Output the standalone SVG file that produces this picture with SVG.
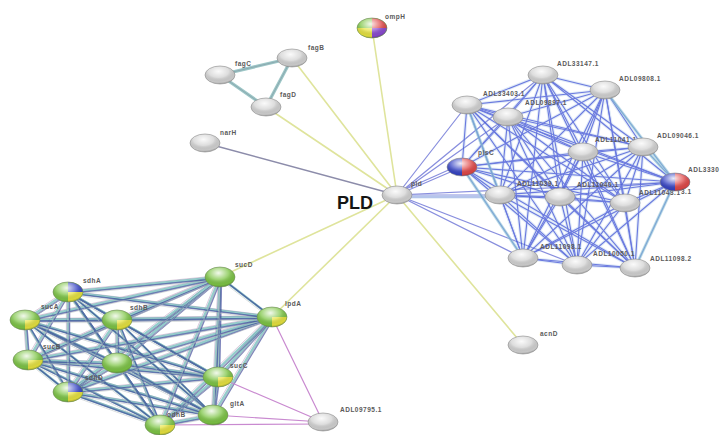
<svg xmlns="http://www.w3.org/2000/svg" xmlns:xlink="http://www.w3.org/1999/xlink" width="728" height="435" viewBox="0 0 728 435">
<style>
.lb{font-family:"Liberation Sans",Arial,sans-serif;font-size:6.5px;font-weight:bold;fill:#5a5a5a;letter-spacing:.5px}
.pld{font-family:"Liberation Sans",Arial,sans-serif;font-size:18px;font-weight:bold;fill:#151515}
.gr{fill:#d2d2d2}
.gn{fill:#7cc444}
.yl{fill:#e6e23e}
.bl{fill:#3644c4}
.rd{fill:#e04848}
.pu{fill:#8a4ad0}
</style>
<defs>
<radialGradient id="gloss" cx=".45" cy=".3" r=".75">
<stop offset="0" stop-color="#fff" stop-opacity=".9"/>
<stop offset=".45" stop-color="#fff" stop-opacity=".25"/>
<stop offset=".8" stop-color="#000" stop-opacity=".05"/>
<stop offset="1" stop-color="#000" stop-opacity=".35"/>
</radialGradient>
<ellipse id="g9" rx="15" ry="9" fill="url(#gloss)" stroke="#8a8a8a" stroke-width=".6"/>
<ellipse id="g10" rx="15" ry="10" fill="url(#gloss)" stroke="#6f8a5a" stroke-width=".6"/>
<path id="ybr" d="M0,0 L15,0 A15,10 0 0 1 0,10Z"/>
<path id="btr" d="M0,0 L0,-10 A15,10 0 0 1 15,0Z"/>
<path id="bl10" d="M0,0 L0,10 A15,10 0 0 1 -15,0Z"/>
<path id="rh9" d="M0,-9 A15,9 0 0 1 0,9Z"/>
</defs>
<rect width="728" height="435" fill="#fff"/>

<g id="connectors" fill="none" stroke-linecap="round">
<g stroke="#dfe49c" stroke-width="1.6">
<line x1="397" y1="195" x2="372" y2="28"/>
<line x1="397" y1="195" x2="292" y2="58"/>
<line x1="397" y1="195" x2="266" y2="107"/>
<line x1="397" y1="195" x2="220" y2="277"/>
<line x1="397" y1="195" x2="272" y2="317"/>
<line x1="397" y1="195" x2="523" y2="345"/>
</g>
<line x1="397" y1="195" x2="205" y2="143" stroke="#8c8caa" stroke-width="1.5"/>
<g stroke="#6a72d6" stroke-width="1.2" opacity=".8">
<line x1="397" y1="195" x2="462" y2="167"/>
<line x1="397" y1="193" x2="462" y2="164"/>
<line x1="397" y1="195" x2="467" y2="105"/>
<line x1="397" y1="195" x2="508" y2="117"/>
<line x1="397" y1="195" x2="543" y2="75"/>
<line x1="397" y1="195" x2="500" y2="195"/>
<line x1="397" y1="197" x2="560" y2="197"/>
<line x1="397" y1="195" x2="523" y2="258"/>
<line x1="397" y1="195" x2="577" y2="265"/>
<line x1="397" y1="195" x2="675" y2="182"/>
</g>
<line x1="397" y1="197" x2="500" y2="197" stroke="#a8c4e8" stroke-width="3" opacity=".5"/>
<g stroke="#9cc6c6" stroke-width="3.2">
<line x1="220" y1="75" x2="292" y2="58"/>
<line x1="292" y1="58" x2="266" y2="107"/>
<line x1="266" y1="107" x2="220" y2="75"/>
</g>
<g stroke="#7a8a9a" stroke-width=".8" opacity=".6">
<line x1="220" y1="75" x2="292" y2="58"/>
<line x1="292" y1="58" x2="266" y2="107"/>
<line x1="266" y1="107" x2="220" y2="75"/>
</g>
<use xlink:href="#rmesh" href="#rmesh" stroke="#a9c6ea" stroke-width="3.2" opacity=".35"/>
<g stroke="#3d4ed6" stroke-width="1.1" opacity=".72"><g id="rmesh">
<line x1="543" y1="75" x2="605" y2="90"/><line x1="543" y1="75" x2="467" y2="105"/><line x1="543" y1="75" x2="508" y2="117"/><line x1="543" y1="75" x2="643" y2="147"/><line x1="543" y1="75" x2="583" y2="152"/><line x1="543" y1="75" x2="462" y2="167"/><line x1="543" y1="75" x2="675" y2="182"/><line x1="543" y1="75" x2="500" y2="195"/><line x1="543" y1="75" x2="560" y2="197"/><line x1="543" y1="75" x2="625" y2="203"/><line x1="543" y1="75" x2="523" y2="258"/><line x1="543" y1="75" x2="577" y2="265"/><line x1="543" y1="75" x2="635" y2="268"/>
<line x1="605" y1="90" x2="467" y2="105"/><line x1="605" y1="90" x2="508" y2="117"/><line x1="605" y1="90" x2="643" y2="147"/><line x1="605" y1="90" x2="583" y2="152"/><line x1="605" y1="90" x2="462" y2="167"/><line x1="605" y1="90" x2="675" y2="182"/><line x1="605" y1="90" x2="500" y2="195"/><line x1="605" y1="90" x2="560" y2="197"/><line x1="605" y1="90" x2="625" y2="203"/><line x1="605" y1="90" x2="523" y2="258"/><line x1="605" y1="90" x2="577" y2="265"/><line x1="605" y1="90" x2="635" y2="268"/>
<line x1="467" y1="105" x2="508" y2="117"/><line x1="467" y1="105" x2="643" y2="147"/><line x1="467" y1="105" x2="583" y2="152"/><line x1="467" y1="105" x2="462" y2="167"/><line x1="467" y1="105" x2="675" y2="182"/><line x1="467" y1="105" x2="500" y2="195"/><line x1="467" y1="105" x2="560" y2="197"/><line x1="467" y1="105" x2="625" y2="203"/><line x1="467" y1="105" x2="523" y2="258"/><line x1="467" y1="105" x2="577" y2="265"/><line x1="467" y1="105" x2="635" y2="268"/>
<line x1="508" y1="117" x2="643" y2="147"/><line x1="508" y1="117" x2="583" y2="152"/><line x1="508" y1="117" x2="462" y2="167"/><line x1="508" y1="117" x2="675" y2="182"/><line x1="508" y1="117" x2="500" y2="195"/><line x1="508" y1="117" x2="560" y2="197"/><line x1="508" y1="117" x2="625" y2="203"/><line x1="508" y1="117" x2="523" y2="258"/><line x1="508" y1="117" x2="577" y2="265"/><line x1="508" y1="117" x2="635" y2="268"/>
<line x1="643" y1="147" x2="583" y2="152"/><line x1="643" y1="147" x2="462" y2="167"/><line x1="643" y1="147" x2="675" y2="182"/><line x1="643" y1="147" x2="500" y2="195"/><line x1="643" y1="147" x2="560" y2="197"/><line x1="643" y1="147" x2="625" y2="203"/><line x1="643" y1="147" x2="523" y2="258"/><line x1="643" y1="147" x2="577" y2="265"/><line x1="643" y1="147" x2="635" y2="268"/>
<line x1="583" y1="152" x2="462" y2="167"/><line x1="583" y1="152" x2="675" y2="182"/><line x1="583" y1="152" x2="500" y2="195"/><line x1="583" y1="152" x2="560" y2="197"/><line x1="583" y1="152" x2="625" y2="203"/><line x1="583" y1="152" x2="523" y2="258"/><line x1="583" y1="152" x2="577" y2="265"/><line x1="583" y1="152" x2="635" y2="268"/>
<line x1="462" y1="167" x2="675" y2="182"/><line x1="462" y1="167" x2="500" y2="195"/><line x1="462" y1="167" x2="560" y2="197"/><line x1="462" y1="167" x2="625" y2="203"/><line x1="462" y1="167" x2="523" y2="258"/><line x1="462" y1="167" x2="577" y2="265"/><line x1="462" y1="167" x2="635" y2="268"/>
<line x1="675" y1="182" x2="500" y2="195"/><line x1="675" y1="182" x2="560" y2="197"/><line x1="675" y1="182" x2="625" y2="203"/><line x1="675" y1="182" x2="523" y2="258"/><line x1="675" y1="182" x2="577" y2="265"/><line x1="675" y1="182" x2="635" y2="268"/>
<line x1="500" y1="195" x2="560" y2="197"/><line x1="500" y1="195" x2="625" y2="203"/><line x1="500" y1="195" x2="523" y2="258"/><line x1="500" y1="195" x2="577" y2="265"/><line x1="500" y1="195" x2="635" y2="268"/>
<line x1="560" y1="197" x2="625" y2="203"/><line x1="560" y1="197" x2="523" y2="258"/><line x1="560" y1="197" x2="577" y2="265"/><line x1="560" y1="197" x2="635" y2="268"/>
<line x1="625" y1="203" x2="523" y2="258"/><line x1="625" y1="203" x2="577" y2="265"/><line x1="625" y1="203" x2="635" y2="268"/>
<line x1="523" y1="258" x2="577" y2="265"/><line x1="523" y1="258" x2="635" y2="268"/>
<line x1="577" y1="265" x2="635" y2="268"/>
</g></g>
<g stroke="#8cc8d0" stroke-width="2.6" opacity=".55">
<line x1="605" y1="90" x2="675" y2="182"/>
<line x1="643" y1="147" x2="675" y2="182"/>
<line x1="467" y1="105" x2="500" y2="195"/>
<line x1="462" y1="167" x2="523" y2="258"/>
<line x1="675" y1="182" x2="635" y2="268"/>
</g>
<use xlink:href="#blmesh" href="#blmesh" stroke="#9a6aa0" stroke-width=".9" opacity=".4" transform="translate(-1.6,-1.3)"/>
<g stroke="#4fabaa" stroke-width="2.4" opacity=".6"><g id="blmesh">
<line x1="68" y1="292" x2="220" y2="277"/><line x1="68" y1="292" x2="25" y2="320"/><line x1="68" y1="292" x2="117" y2="320"/><line x1="68" y1="292" x2="272" y2="317"/><line x1="68" y1="292" x2="28" y2="360"/><line x1="68" y1="292" x2="117" y2="363"/><line x1="68" y1="292" x2="68" y2="392"/><line x1="68" y1="292" x2="218" y2="377"/><line x1="68" y1="292" x2="213" y2="415"/><line x1="68" y1="292" x2="160" y2="425"/>
<line x1="220" y1="277" x2="25" y2="320"/><line x1="220" y1="277" x2="117" y2="320"/><line x1="220" y1="277" x2="272" y2="317"/><line x1="220" y1="277" x2="28" y2="360"/><line x1="220" y1="277" x2="117" y2="363"/><line x1="220" y1="277" x2="68" y2="392"/><line x1="220" y1="277" x2="218" y2="377"/><line x1="220" y1="277" x2="213" y2="415"/><line x1="220" y1="277" x2="160" y2="425"/>
<line x1="25" y1="320" x2="117" y2="320"/><line x1="25" y1="320" x2="272" y2="317"/><line x1="25" y1="320" x2="28" y2="360"/><line x1="25" y1="320" x2="117" y2="363"/><line x1="25" y1="320" x2="68" y2="392"/><line x1="25" y1="320" x2="218" y2="377"/><line x1="25" y1="320" x2="213" y2="415"/><line x1="25" y1="320" x2="160" y2="425"/>
<line x1="117" y1="320" x2="272" y2="317"/><line x1="117" y1="320" x2="28" y2="360"/><line x1="117" y1="320" x2="117" y2="363"/><line x1="117" y1="320" x2="68" y2="392"/><line x1="117" y1="320" x2="218" y2="377"/><line x1="117" y1="320" x2="213" y2="415"/><line x1="117" y1="320" x2="160" y2="425"/>
<line x1="272" y1="317" x2="28" y2="360"/><line x1="272" y1="317" x2="117" y2="363"/><line x1="272" y1="317" x2="68" y2="392"/><line x1="272" y1="317" x2="218" y2="377"/><line x1="272" y1="317" x2="213" y2="415"/><line x1="272" y1="317" x2="160" y2="425"/>
<line x1="28" y1="360" x2="117" y2="363"/><line x1="28" y1="360" x2="68" y2="392"/><line x1="28" y1="360" x2="218" y2="377"/><line x1="28" y1="360" x2="213" y2="415"/><line x1="28" y1="360" x2="160" y2="425"/>
<line x1="117" y1="363" x2="68" y2="392"/><line x1="117" y1="363" x2="218" y2="377"/><line x1="117" y1="363" x2="213" y2="415"/><line x1="117" y1="363" x2="160" y2="425"/>
<line x1="68" y1="392" x2="218" y2="377"/><line x1="68" y1="392" x2="213" y2="415"/><line x1="68" y1="392" x2="160" y2="425"/>
<line x1="218" y1="377" x2="213" y2="415"/><line x1="218" y1="377" x2="160" y2="425"/>
<line x1="213" y1="415" x2="160" y2="425"/>
</g></g>
<use xlink:href="#blmesh" href="#blmesh" stroke="#27338e" stroke-width="1.5" opacity=".6" transform="translate(1.5,1.3)"/>
<use xlink:href="#blmesh" href="#blmesh" stroke="#b8c0c0" stroke-width="1" opacity=".5" transform="translate(0,2.6)"/>
<g stroke="#c98ad0" stroke-width="1.2">
<line x1="272" y1="317" x2="323" y2="422"/>
<line x1="218" y1="377" x2="323" y2="422"/>
<line x1="213" y1="415" x2="323" y2="422"/>
<line x1="160" y1="425" x2="323" y2="424"/>
</g>
</g>

<g id="nodes">
<g id="n-ompH" transform="translate(372,28)">
<ellipse rx="15" ry="10" class="gn"/><use href="#btr" xlink:href="#btr" class="rd"/><use href="#ybr" xlink:href="#ybr" class="pu"/><use href="#bl10" xlink:href="#bl10" class="yl"/><use href="#g10" xlink:href="#g10"/>
<text class="lb" x="13" y="-9">ompH</text></g>
<g id="n-fagC" transform="translate(220,75)"><ellipse rx="15" ry="9" class="gr"/><use href="#g9" xlink:href="#g9"/><text class="lb" x="15" y="-9">fagC</text></g>
<g id="n-fagB" transform="translate(292,58)"><ellipse rx="15" ry="9" class="gr"/><use href="#g9" xlink:href="#g9"/><text class="lb" x="16" y="-8">fagB</text></g>
<g id="n-fagD" transform="translate(266,107)"><ellipse rx="15" ry="9" class="gr"/><use href="#g9" xlink:href="#g9"/><text class="lb" x="14" y="-10">fagD</text></g>
<g id="n-narH" transform="translate(205,143)"><ellipse rx="15" ry="9" class="gr"/><use href="#g9" xlink:href="#g9"/><text class="lb" x="15" y="-8">narH</text></g>
<g id="n-PLD" transform="translate(397,195)"><ellipse rx="15" ry="9" class="gr"/><use href="#g9" xlink:href="#g9"/><text class="lb" x="14" y="-9">pld</text>
<text class="pld" x="-60" y="14">PLD</text></g>

<g id="n-ADL11041" transform="translate(583,152)"><ellipse rx="15" ry="9" class="gr"/><use href="#g9" xlink:href="#g9"/><text class="lb" x="12" y="-10">ADL11041.1</text></g>
<g id="n-ADL33147" transform="translate(543,75)"><ellipse rx="15" ry="9" class="gr"/><use href="#g9" xlink:href="#g9"/><text class="lb" x="14" y="-9">ADL33147.1</text></g>
<g id="n-ADL09808" transform="translate(605,90)"><ellipse rx="15" ry="9" class="gr"/><use href="#g9" xlink:href="#g9"/><text class="lb" x="14" y="-9">ADL09808.1</text></g>
<g id="n-ADL33403" transform="translate(467,105)"><ellipse rx="15" ry="9" class="gr"/><use href="#g9" xlink:href="#g9"/><text class="lb" x="16" y="-9">ADL33403.1</text></g>
<g id="n-ADL09897" transform="translate(508,117)"><ellipse rx="15" ry="9" class="gr"/><use href="#g9" xlink:href="#g9"/><text class="lb" x="17" y="-12">ADL09897.1</text></g>
<g id="n-ADL09046" transform="translate(643,147)"><ellipse rx="15" ry="9" class="gr"/><use href="#g9" xlink:href="#g9"/><text class="lb" x="14" y="-9">ADL09046.1</text></g>
<g id="n-plsC" transform="translate(462,167)"><ellipse rx="15" ry="9" class="bl"/><use href="#rh9" xlink:href="#rh9" class="rd"/><use href="#g9" xlink:href="#g9"/><text class="lb" x="16" y="-12">plsC</text></g>
<g id="n-ADL11039" transform="translate(500,195)"><ellipse rx="15" ry="9" class="gr"/><use href="#g9" xlink:href="#g9"/><text class="lb" x="17" y="-9">ADL11039.1</text></g>
<g id="n-ADL11040" transform="translate(560,197)"><ellipse rx="15" ry="9" class="gr"/><use href="#g9" xlink:href="#g9"/><text class="lb" x="17" y="-10">ADL11040.1</text></g>
<g id="n-ADL11043" transform="translate(625,203)"><ellipse rx="15" ry="9" class="gr"/><use href="#g9" xlink:href="#g9"/><text class="lb" x="14" y="-8">ADL11043.1</text></g>
<g id="n-ADL33303" transform="translate(675,182)"><ellipse rx="15" ry="9" class="bl"/><use href="#rh9" xlink:href="#rh9" class="rd"/><use href="#g9" xlink:href="#g9"/><text class="lb" x="13" y="-10">ADL3330<tspan x="6" dy="22">3.1</tspan></text></g>
<g id="n-ADL11098" transform="translate(523,258)"><ellipse rx="15" ry="9" class="gr"/><use href="#g9" xlink:href="#g9"/><text class="lb" x="17" y="-9">ADL11098.1</text></g>
<g id="n-ADL10050" transform="translate(577,265)"><ellipse rx="15" ry="9" class="gr"/><use href="#g9" xlink:href="#g9"/><text class="lb" x="16" y="-9">ADL10050.1</text></g>
<g id="n-ADL11098b" transform="translate(635,268)"><ellipse rx="15" ry="9" class="gr"/><use href="#g9" xlink:href="#g9"/><text class="lb" x="15" y="-7">ADL11098.2</text></g>

<g id="n-sdhA" transform="translate(68,292)"><ellipse rx="15" ry="10" class="gn"/><use href="#btr" xlink:href="#btr" class="bl"/><use href="#ybr" xlink:href="#ybr" class="yl"/><use href="#g10" xlink:href="#g10"/><text class="lb" x="15" y="-9">sdhA</text></g>
<g id="n-sucD" transform="translate(220,277)"><ellipse rx="15" ry="10" class="gn"/><use href="#g10" xlink:href="#g10"/><text class="lb" x="15" y="-10">sucD</text></g>
<g id="n-sucA" transform="translate(25,320)"><ellipse rx="15" ry="10" class="gn"/><use href="#ybr" xlink:href="#ybr" class="yl"/><use href="#g10" xlink:href="#g10"/><text class="lb" x="16" y="-11">sucA</text></g>
<g id="n-sdhB" transform="translate(117,320)"><ellipse rx="15" ry="10" class="gn"/><use href="#ybr" xlink:href="#ybr" class="yl"/><use href="#g10" xlink:href="#g10"/><text class="lb" x="13" y="-10">sdhB</text></g>
<g id="n-lpdA" transform="translate(272,317)"><ellipse rx="15" ry="10" class="gn"/><use href="#ybr" xlink:href="#ybr" class="yl"/><use href="#g10" xlink:href="#g10"/><text class="lb" x="13" y="-11">lpdA</text></g>
<g id="n-sucB" transform="translate(28,360)"><ellipse rx="15" ry="10" class="gn"/><use href="#ybr" xlink:href="#ybr" class="yl"/><use href="#g10" xlink:href="#g10"/><text class="lb" x="15" y="-11">sucB</text></g>
<g id="n-sdhC" transform="translate(117,363)"><ellipse rx="15" ry="10" class="gn"/><use href="#g10" xlink:href="#g10"/></g>
<g id="n-sdhD" transform="translate(68,392)"><ellipse rx="15" ry="10" class="gn"/><use href="#btr" xlink:href="#btr" class="bl"/><use href="#ybr" xlink:href="#ybr" class="yl"/><use href="#g10" xlink:href="#g10"/><text class="lb" x="17" y="-12">sdhD</text></g>
<g id="n-sucC" transform="translate(218,377)"><ellipse rx="15" ry="10" class="gn"/><use href="#ybr" xlink:href="#ybr" class="yl"/><use href="#g10" xlink:href="#g10"/><text class="lb" x="12" y="-9">sucC</text></g>
<g id="n-gltA" transform="translate(213,415)"><ellipse rx="15" ry="10" class="gn"/><use href="#g10" xlink:href="#g10"/><text class="lb" x="17" y="-9">gltA</text></g>
<g id="n-odhB" transform="translate(160,425)"><ellipse rx="15" ry="10" class="gn"/><use href="#ybr" xlink:href="#ybr" class="yl"/><use href="#g10" xlink:href="#g10"/><text class="lb" x="7" y="-8">odhB</text></g>

<g id="n-ADL09795" transform="translate(323,422)"><ellipse rx="15" ry="9" class="gr"/><use href="#g9" xlink:href="#g9"/><text class="lb" x="17" y="-10">ADL09795.1</text></g>
<g id="n-acnD" transform="translate(523,345)"><ellipse rx="15" ry="9" class="gr"/><use href="#g9" xlink:href="#g9"/><text class="lb" x="17" y="-9">acnD</text></g>
</g>
</svg>
